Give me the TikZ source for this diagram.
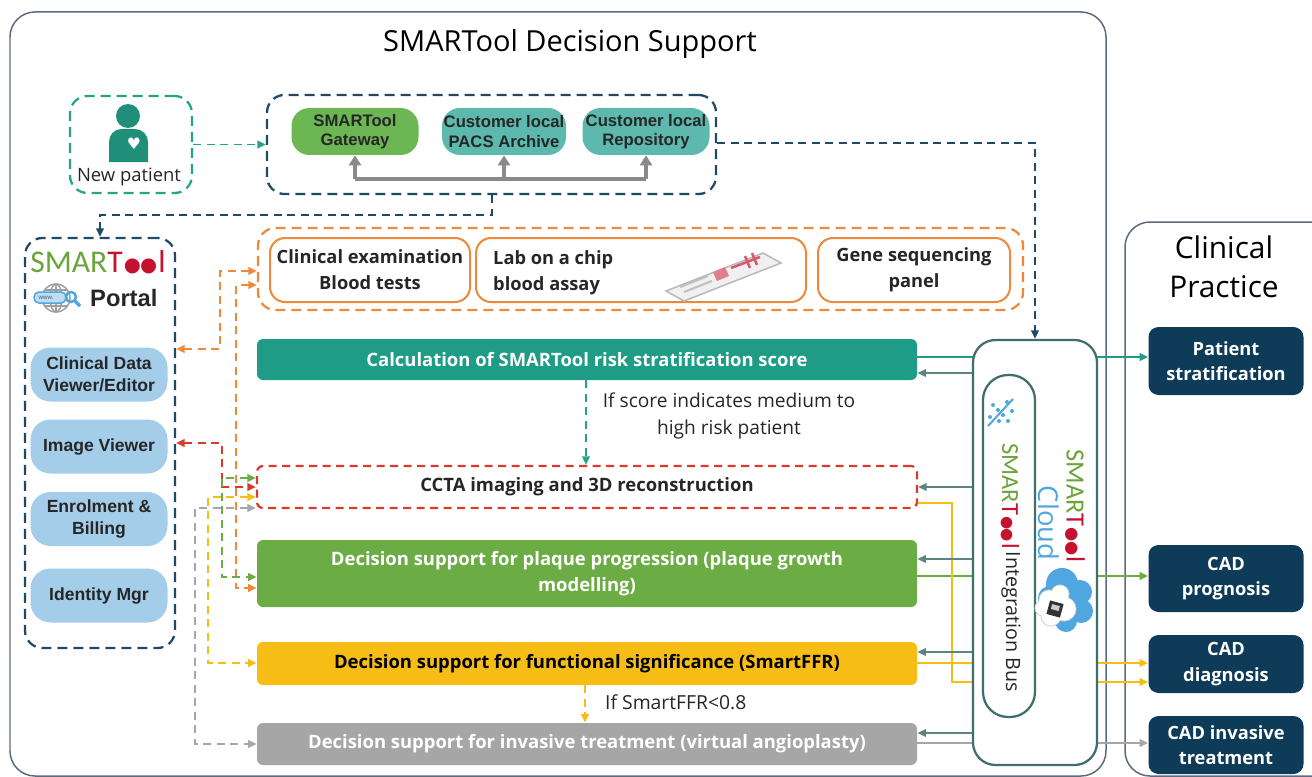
\documentclass[tikz,border=0pt]{standalone}
\usepackage{fontspec}
\setmainfont{Open Sans}
\newfontfamily\arialfont{Liberation Sans}
\newfontfamily\symfont{DejaVu Sans}
\newfontfamily\logofont{Carlito}
\usetikzlibrary{arrows.meta,positioning}

\definecolor{framegrey}{HTML}{5E6A80}
\definecolor{navy}{HTML}{0E3B57}
\definecolor{dashblue}{HTML}{1F4A66}
\definecolor{npteal}{HTML}{26A386}
\definecolor{iconteal}{HTML}{1F8F7A}
\definecolor{scoreteal}{HTML}{1E9C86}
\definecolor{gwgreen}{HTML}{6DB654}
\definecolor{pacsteal}{HTML}{5DB8AD}
\definecolor{bracketgrey}{HTML}{8A8A8A}
\definecolor{labor}{HTML}{F0883A}
\definecolor{cctared}{HTML}{D93A2F}
\definecolor{plaquegreen}{HTML}{6CAC45}
\definecolor{ffryellow}{HTML}{F6BD17}
\definecolor{invgrey}{HTML}{A6A6A6}
\definecolor{itemblue}{HTML}{A4CDEA}
\definecolor{cloudedge}{HTML}{3F6E6B}
\definecolor{logogreen}{HTML}{6AA53B}
\definecolor{logored}{HTML}{C4122F}
\definecolor{cloudblue}{HTML}{4FA6E0}
\definecolor{textgrey}{HTML}{262626}

% SMARTool word mark
\newcommand{\smartlogo}{{\logofont\textcolor{logogreen}{SMAR}\textcolor{logored}{T\kern0.04em\raisebox{0.02em}{\scalebox{0.62}{\symfont●\kern-0.05em●}}\kern0.04em l}}}

\tikzset{
  sz/.style 2 args={minimum width=#1*0.02cm, minimum height=#2*0.02cm},
  frame/.style={draw=framegrey, line width=0.3mm, rounded corners=0.5cm},
  dashbox/.style={line width=0.45mm, dash pattern=on 2mm off 1.2mm, rounded corners=0.35cm},
  conn/.style={line width=0.4mm, dash pattern=on 1.6mm off 1.1mm},
  topbox/.style={rounded corners=0.36cm, inner sep=0pt, align=center, text=textgrey,
      font=\arialfont\bfseries\fontsize{9.5}{11}\selectfont},
  item/.style={fill=itemblue, rounded corners=0.4cm, inner sep=0pt, align=center, text=textgrey,
      sz={137}{54}, font=\arialfont\bfseries\fontsize{10}{12.5}\selectfont},
  labbox/.style={draw=labor, line width=0.4mm, rounded corners=0.3cm, inner sep=0pt, align=center,
      text=textgrey, font=\bfseries\fontsize{10.4}{14.7}\selectfont},
  stage/.style={rounded corners=0.12cm, inner sep=0pt, align=center,
      font=\bfseries\fontsize{10.5}{14.5}\selectfont},
  outbox/.style={fill=navy, text=white, rounded corners=0.2cm, inner sep=0pt, align=center,
      font=\bfseries\fontsize{10.4}{14.5}\selectfont},
  feed/.style={line width=0.4mm, ->},
  backarrow/.style={draw=cloudedge!85, line width=0.3mm, ->},
}

\begin{document}
\begin{tikzpicture}[x=0.02cm, y=-0.02cm, >={Triangle[length=1.7mm,width=1.5mm]}]
  \useasboundingbox (0,0) rectangle (1312,777);
  \clip (0,0) rectangle (1312,777);

  % panels
  \draw[frame] (10,12) rectangle (1106,776);
  \draw[frame] (1125,222) rectangle (1350,776);
  \node[font=\fontsize{16.5}{20}\selectfont, text=black] (title) at (570,44) {SMARTool Decision Support};
  \node[font=\fontsize{17}{22}\selectfont, align=center, text=black] (practice) at (1224,267) {Clinical\\Practice};

  % new patient
  \node[draw=npteal, dashbox, sz={122}{97}] (newpat) at (131,144.5) {};
  \fill[iconteal] (128,116) circle (12);
  \fill[iconteal] (109,162) -- (109,142) to[out=90,in=180] (121,129) -- (135,129)
      to[out=0,in=90] (148,142) -- (148,162) -- cycle;
  \node[text=white, font=\symfont\fontsize{9}{9}\selectfont] (heart) at (134,144) {♥};
  \node[font=\fontsize{10.5}{12}\selectfont, text=textgrey] (newpattxt) at (129,177) {New patient};

  % gateway and local archives
  \node[draw=dashblue, dashbox, sz={449}{99}] (store) at (491.5,144.5) {};
  \node[topbox, fill=gwgreen, sz={127}{47}] (gateway) at (355,131.5) {SMARTool\\Gateway};
  \node[topbox, fill=pacsteal, sz={124}{47}] (pacs) at (504,131.5) {Customer local\\PACS Archive};
  \node[topbox, fill=pacsteal, sz={127}{47}] (repo) at (646,131.5) {Customer local\\Repository};
  \draw[bracketgrey, line width=0.8mm] (gateway.south |- 0,179) -- (repo.south |- 0,179);
  \foreach \b in {gateway,pacs,repo}
    \draw[bracketgrey, line width=0.8mm, -{Triangle[length=2mm,width=2.4mm]}] (\b.south |- 0,179) -- (\b.south);

  % portal
  \node[draw=dashblue, dashbox, sz={150}{410}] (portal) at (100,443) {};
  \node[font=\fontsize{18}{20}\selectfont] (portallogo) at (98,262) {\smartlogo};
  \draw[gray!75, line width=0.3mm] (56,298) circle (14);
  \draw[gray!75, line width=0.3mm] (56,298) ellipse (6 and 14);
  \draw[gray!75, line width=0.3mm] (56,284) -- (56,312) (44,290) -- (68,290) (44,306) -- (68,306);
  \draw[draw=cloudblue, fill=itemblue!70, rounded corners=0.1cm, line width=0.3mm] (34,292) rectangle (66,303);
  \node[font=\arialfont\fontsize{3.5}{4}\selectfont, text=cloudblue!60!black] (www) at (46,297.5) {www.};
  \draw[cloudblue, line width=0.5mm] (71,297) circle (5);
  \draw[cloudblue, line width=0.7mm] (75,301) -- (80,306);
  \node[font=\arialfont\bfseries\fontsize{13.5}{14}\selectfont, text=textgrey, anchor=west] (portaltxt) at (84,298) {Portal};
  \node[item] (dataview) at (99,374.5) {Clinical Data\\Viewer/Editor};
  \node[item] (imgview) at (99,446.5) {Image Viewer};
  \node[item] (billing) at (99,519) {Enrolment \&\\Billing};
  \node[item] (idmgr) at (99,595.5) {Identity Mgr};

  % clinical inputs
  \node[draw=labor, dashbox, sz={765}{82}] (labs) at (640.5,269) {};
  \node[labbox, sz={200}{64}] (clinexam) at (370,270) {Clinical examination\\Blood tests};
  \node[labbox, sz={330}{64}] (chip) at (641,270) {};
  \node[font=\bfseries\fontsize{10.4}{14.7}\selectfont, text=textgrey, align=left, anchor=west] (chiptxt) at (487,273) {Lab on a chip\\blood assay};
  \filldraw[fill=gray!12, draw=gray!55, line width=0.3mm] (666,291) -- (763,253) -- (781,263) -- (684,301) -- cycle;
  \fill[logored!55] (713,272) -- (725,267) -- (729,276) -- (717,281) -- cycle;
  \draw[logored!70, line width=0.5mm] (731,268) -- (760,257) (745,256) -- (750,268) (752,253) -- (757,265);
  \draw[gray!50, line width=0.4mm] (680,287) -- (708,276) (684,292) -- (712,281);
  \node[labbox, sz={192}{64}] (gene) at (914,270) {Gene sequencing\\panel};

  % pipeline stages
  \node[stage, fill=scoreteal, text=white, sz={660}{41}] (score) at (587,359.5) {Calculation of SMARTool risk stratification score};
  \node[stage, draw=cctared, line width=0.45mm, dash pattern=on 1.6mm off 1.1mm, text=textgrey, sz={660}{42}] (ccta) at (587,487) {CCTA imaging and 3D reconstruction};
  \node[stage, fill=plaquegreen, text=white, sz={660}{67}] (plaque) at (587,573.5) {Decision support for plaque progression (plaque growth\\modelling)};
  \node[stage, fill=ffryellow, text=black, sz={660}{43}] (ffr) at (587,663.5) {Decision support for functional significance (SmartFFR)};
  \node[stage, fill=invgrey, text=white, sz={660}{42}] (invasive) at (587,744) {Decision support for invasive treatment (virtual angioplasty)};

  \node[font=\fontsize{10.9}{15.3}\selectfont, align=center, text=textgrey] (scorenote) at (729,416) {If score indicates medium to\\high risk patient};
  \node[font=\fontsize{11}{12}\selectfont, anchor=west, text=textgrey] (ffrnote) at (599,702) {If SmartFFR<0.8};
  \draw[conn, npteal, ->] (score.south -| 586,0) -- (ccta.north -| 586,0);
  \draw[conn, ffryellow, ->] (ffr.south -| 585,0) -- (invasive.north -| 585,0);

  % clinical practice outputs
  \node[outbox, sz={155}{68}] (strat) at (1226,361) {Patient\\stratification};
  \node[outbox, sz={155}{67}] (prog) at (1226,578.5) {CAD\\prognosis};
  \node[outbox, sz={155}{58}] (diag) at (1226,664) {CAD\\diagnosis};
  \node[outbox, sz={155}{58}] (invtreat) at (1226,745) {CAD invasive\\treatment};

  \draw[feed, scoreteal] (score.east |- 0,357) -- (strat.west |- 0,357);
  \draw[feed, plaquegreen] (plaque.east |- 0,576) -- (prog.west |- 0,576);
  \draw[feed, ffryellow] (ffr.east |- 0,663) -- (diag.west |- 0,663);
  \draw[feed, ffryellow] (ccta.east |- 0,503) -| (952,682) -- (diag.west |- 0,682);
  \draw[feed, invgrey] (invasive.east |- 0,743) -- (invtreat.west |- 0,743);

  % cloud and integration bus
  \node[draw=cloudedge, line width=0.45mm, fill=white, rounded corners=0.45cm, sz={124}{425}] (cloud) at (1035,552.5) {};
  \node[draw=cloudedge, line width=0.45mm, rounded corners=0.5cm, sz={52}{342}] (bus) at (1009,546) {};
  \foreach \p in {(993,405),(998,410),(1003,415),(1008,421),(999,421),(1007,402),(990,417),(1012,411)}
    \fill[cloudblue] \p circle (2);
  \draw[cloudblue, line width=0.4mm] (988,426) -- (1013,399);
  \node[rotate=-90, font=\fontsize{14}{15}\selectfont] (buslogo) at (1010,496) {\smartlogo};
  \node[rotate=-90, font=\fontsize{11.2}{12}\selectfont, text=textgrey] (bustxt) at (1011,622) {Integration Bus};
  \node[rotate=-90, font=\fontsize{15}{16}\selectfont] (cloudlogo) at (1075,506) {\smartlogo};
  \node[rotate=-90, font=\fontsize{15.6}{17}\selectfont, text=cloudblue] (cloudtxt) at (1049,523) {Cloud};
  \fill[cloudblue] (1062,584) circle (16) (1080,592) circle (12) (1081,611) circle (12)
      (1066,621) circle (11) (1050,598) circle (12);
  \filldraw[fill=white, draw=gray!40, line width=0.2mm] (1049,600) circle (10) (1060,594) circle (9)
      (1064,609) circle (12) (1051,616) circle (10) (1043,608) circle (8);
  \fill[white] (1049,600) circle (9.6) (1060,594) circle (8.6) (1064,609) circle (11.6) (1051,616) circle (9.6) (1043,608) circle (7.6);
  \fill[black!80, rotate around={-15:(1055,609)}] (1048,602) rectangle (1062,616);
  \fill[gray!40, rotate around={-15:(1055,609)}] (1051,605) rectangle (1059,610);

  % bus links back to each stage
  \draw[backarrow] (cloud.west |- 0,373) -- (score.east |- 0,373);
  \draw[backarrow] (cloud.west |- 0,487) -- (ccta.east |- 0,487);
  \draw[backarrow] (cloud.west |- 0,559) -- (plaque.east |- 0,559);
  \draw[backarrow] (cloud.west |- 0,652) -- (ffr.east |- 0,652);
  \draw[backarrow] (cloud.west |- 0,733) -- (invasive.east |- 0,733);

  % data flow between boxes
  \draw[conn, npteal, ->] (newpat.east) -- (store.west);
  \draw[conn, dashblue, ->] (store.south) |- (portal.north |- 0,215) -- (portal.north);
  \draw[conn, dashblue, ->] (store.east |- 0,143) -| (cloud.north);

  % portal links
  \draw[conn, labor, <->] (portal.east |- 0,349) -| (220,271) -- (labs.west |- 0,271);
  \draw[conn, labor, <->] (labs.west |- 0,285) -| (236,588) -- (plaque.west |- 0,588);
  \draw[conn, cctared, <->] (portal.east |- 0,443) -| (222,487) -- (ccta.west |- 0,487);
  \draw[conn, plaquegreen, <->] (ccta.west |- 0,478) -| (222,577) -- (plaque.west |- 0,577);
  \draw[conn, ffryellow, <->] (ccta.west |- 0,497) -| (208,663) -- (ffr.west |- 0,663);
  \draw[conn, invgrey, <->] (ccta.west |- 0,508) -| (195,744) -- (invasive.west |- 0,744);
\end{tikzpicture}
\end{document}
